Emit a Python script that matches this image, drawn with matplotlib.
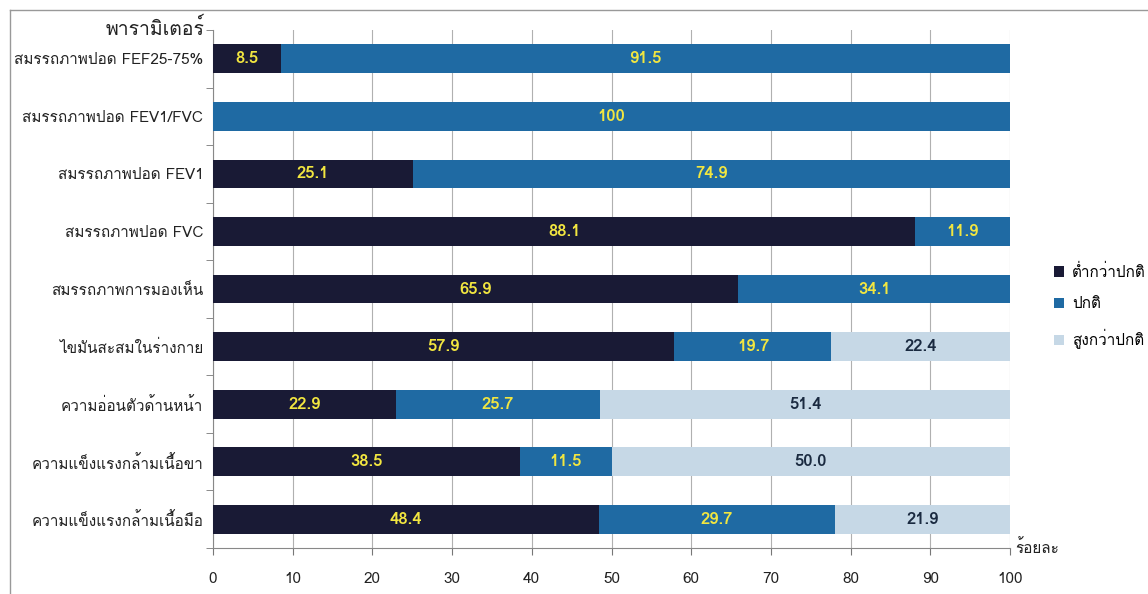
import matplotlib
matplotlib.use("Agg")
import matplotlib.pyplot as plt
from matplotlib import font_manager
from matplotlib.ft2font import FT2Font
import numpy as np

# find an installed font that has Thai glyphs
thai_font = None
for fe in font_manager.fontManager.ttflist:
  try:
    if 0x0E01 in FT2Font(fe.fname).get_charmap():
      thai_font = fe.name
      break
  except Exception:
    pass
families = ([thai_font] if thai_font else []) + ['DejaVu Sans']
plt.rcParams['font.family'] = families

categories = ["สมรรถภาพปอด FEF25-75%", "สมรรถภาพปอด FEV1/FVC", "สมรรถภาพปอด FEV1",
              "สมรรถภาพปอด FVC", "สมรรถภาพการมองเห็น", "ไขมันสะสมในร่างกาย",
              "ความอ่อนตัวด้านหน้า", "ความแข็งแรงกล้ามเนื้อขา", "ความแข็งแรงกล้ามเนื้อมือ"]
below = [8.5, 0, 25.1, 88.1, 65.9, 57.9, 22.9, 38.5, 48.4]
normal = [91.5, 100, 74.9, 11.9, 34.1, 19.7, 25.7, 11.5, 29.7]
above = [0, 0, 0, 0, 0, 22.4, 51.4, 50.0, 21.9]
series_names = ["ต่ำกว่าปกติ", "ปกติ", "สูงกว่าปกติ"]
x_ticks = [0, 10, 20, 30, 40, 50, 60, 70, 80, 90, 100]

colors = ["#191a35", "#1f6aa3", "#c6d8e6"]
text_colors = ["#f2e640", "#f2e640", "#1a2a40"]

fig = plt.figure(figsize=(11.48, 5.94), dpi=100)
ax = fig.add_axes([213/1148, 1 - 548/594, (1010-213)/1148, (548-30)/594])

y = np.arange(len(categories))
left = np.zeros(len(categories))
handles = []
for vals, col, tcol, name in zip([below, normal, above], colors, text_colors, series_names):
  vals = np.array(vals, dtype=float)
  bars = ax.barh(y, vals, left=left, height=0.5, color=col, label=name, zorder=3)
  handles.append(bars)
  for yi, l, v in zip(y, left, vals):
    if v > 0:
      txt = "100" if v == 100 else "%.1f" % v
      ax.text(l + v / 2, yi, txt, ha='center', va='center', color=tcol,
              fontsize=12, fontweight='bold', zorder=4)
  left = left + vals

ax.set_xlim(0, 100)
ax.set_ylim(len(categories) - 0.5, -0.5)
ax.set_xticks(x_ticks)
ax.set_xticklabels([str(t) for t in x_ticks], fontsize=11, color="#222222")
ax.set_yticks(y)
ax.set_yticklabels(categories, fontsize=11, color="#222222")
ax.set_yticks(np.arange(len(categories) + 1) - 0.5, minor=True)
ax.tick_params(axis='y', which='major', length=0, pad=7)
ax.tick_params(axis='y', which='minor', length=5, color="#777777")
ax.tick_params(axis='x', length=5, color="#777777", pad=12)
ax.grid(axis='x', color="#b0b0b0", linewidth=0.8, zorder=0)
for s in ['top', 'right']:
  ax.spines[s].set_visible(False)
ax.spines['left'].set_color("#888888")
ax.spines['bottom'].set_color("#888888")

ax.text(-8/797, 1 + 2/518, "พารามิเตอร์", transform=ax.transAxes, ha='right', va='center',
        fontsize=14, color="#222222")
ax.text(1.006, 0, "ร้อยละ", transform=ax.transAxes, ha='left', va='center',
        fontsize=11, color="#222222")

fig.legend(handles, series_names, loc='upper left', bbox_to_anchor=(1040/1148, 1 - 250/594),
           frameon=False, fontsize=11, handlelength=0.7, handleheight=0.7,
           labelspacing=1.15, handletextpad=0.5)

# outer chart frame
fig.add_artist(plt.Line2D([10/1148, 10/1148], [0, 1 - 10/594], color="#999999", linewidth=1))
fig.add_artist(plt.Line2D([10/1148, 1], [1 - 10/594, 1 - 10/594], color="#999999", linewidth=1))

fig.savefig("out.png", dpi=100)
